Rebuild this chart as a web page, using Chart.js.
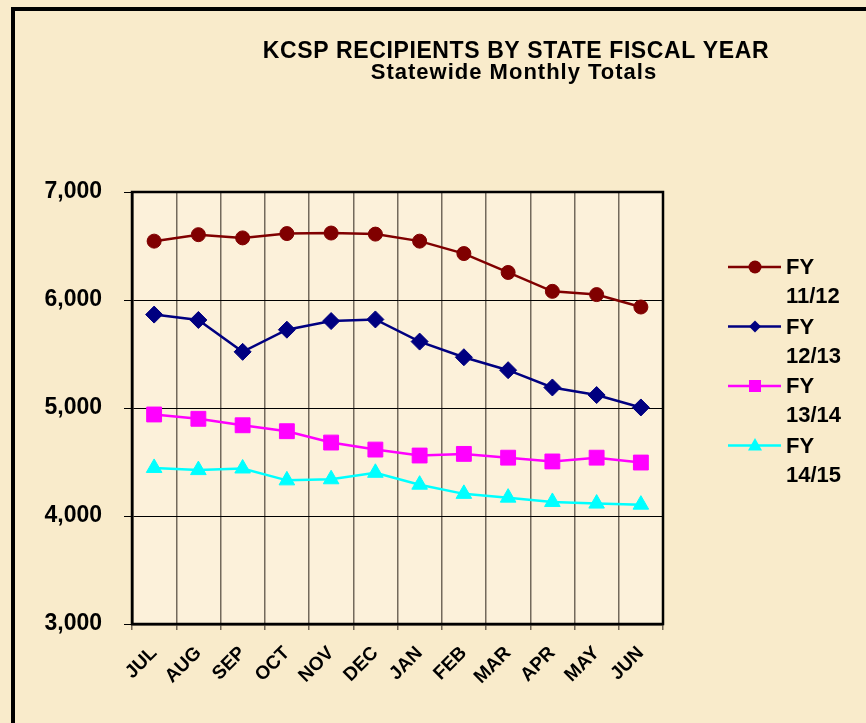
<!DOCTYPE html>
<html>
<head>
<meta charset="utf-8">
<title>KCSP Recipients by State Fiscal Year</title>
<script src="https://cdn.jsdelivr.net/npm/chart.js@4.4.0/dist/chart.umd.min.js"></script>
<style>
  html, body { margin: 0; padding: 0; background: #F9EBCB; overflow: hidden; }
  #wrap { width: 866px; height: 723px; }
</style>
</head>
<body>
<div id="wrap"><canvas id="kcsp" width="866" height="723"></canvas></div>
<script>
// ── Data ───────────────────────────────────────────────────
const months  = ['JUL','AUG','SEP','OCT','NOV','DEC','JAN','FEB','MAR','APR','MAY','JUN'];
const fy1112  = [6545, 6605, 6575, 6615, 6620, 6610, 6545, 6430, 6255, 6080, 6050, 5935];
const fy1213  = [5865, 5815, 5520, 5725, 5805, 5820, 5615, 5470, 5350, 5190, 5120, 5005];
const fy1314  = [4940, 4900, 4840, 4785, 4680, 4615, 4560, 4575, 4540, 4505, 4540, 4495];
const fy1415  = [4445, 4425, 4440, 4330, 4340, 4400, 4290, 4205, 4170, 4130, 4115, 4105];
const yTicks  = [3000, 4000, 5000, 6000, 7000];

const titleText    = 'KCSP RECIPIENTS BY STATE FISCAL YEAR';
const subtitleText = 'Statewide Monthly Totals';
const FONT = 'Arial, "Liberation Sans", sans-serif';

// ── Helpers ────────────────────────────────────────────────
function series(label, data, color, style, radius) {
  return {
    label, data,
    borderColor: color, backgroundColor: color,
    borderWidth: 2.5, tension: 0,
    pointStyle: style, pointRadius: radius, pointHoverRadius: radius,
    pointBackgroundColor: color, pointBorderColor: color, pointBorderWidth: 1
  };
}

function legendMarker(ctx, style, x, y, color) {
  ctx.fillStyle = color;
  ctx.beginPath();
  if (style === 'circle') ctx.arc(x, y, 6.5, 0, Math.PI * 2);
  if (style === 'rectRot') { ctx.moveTo(x, y - 6); ctx.lineTo(x + 6, y); ctx.lineTo(x, y + 6); ctx.lineTo(x - 6, y); }
  if (style === 'rect') ctx.rect(x - 6, y - 6, 12, 12);
  if (style === 'triangle') { ctx.moveTo(x, y - 7.5); ctx.lineTo(x + 7, y + 5); ctx.lineTo(x - 7, y + 5); }
  ctx.closePath();
  ctx.fill();
}

// ── Background, frame, titles, legend ──────────────────────
const decorPlugin = {
  id: 'decor',
  beforeDraw(chart) {
    const { ctx, chartArea: a, width, height } = chart;
    ctx.save();
    ctx.fillStyle = '#F9EBCB';
    ctx.fillRect(0, 0, width, height);
    ctx.fillStyle = '#FCF1DA';
    ctx.fillRect(a.left, a.top, a.right - a.left, a.bottom - a.top);
    // outer border, right/bottom edges are off picture
    ctx.fillStyle = '#000';
    ctx.fillRect(11, 7, width, 4);
    ctx.fillRect(11, 7, 4, height);
    ctx.restore();
  },
  afterDraw(chart) {
    const { ctx, chartArea: a } = chart;
    ctx.save();
    ctx.strokeStyle = '#000';
    ctx.lineWidth = 2.5;
    ctx.strokeRect(a.left, a.top, a.right - a.left, a.bottom - a.top);

    ctx.fillStyle = '#000';
    ctx.textAlign = 'center';
    ctx.textBaseline = 'alphabetic';
    ctx.font = 'bold 23px ' + FONT;
    ctx.letterSpacing = '0.6px';
    ctx.fillText(titleText, 516, 58);
    ctx.font = 'bold 22px ' + FONT;
    ctx.letterSpacing = '1px';
    ctx.fillText(subtitleText, 514, 79);
    ctx.letterSpacing = '0px';

    // legend
    ctx.textAlign = 'left';
    ctx.textBaseline = 'middle';
    chart.data.datasets.forEach((ds, i) => {
      const y = 267 + i * 59.5;
      ctx.strokeStyle = ds.borderColor;
      ctx.lineWidth = 2.5;
      ctx.beginPath();
      ctx.moveTo(728, y);
      ctx.lineTo(781, y);
      ctx.stroke();
      legendMarker(ctx, ds.pointStyle, 755, y, ds.borderColor);
      const parts = ds.label.split(' ');
      ctx.fillStyle = '#000';
      ctx.font = 'bold 22px ' + FONT;
      ctx.fillText(parts[0], 786, y + 1);
      ctx.fillText(parts[1], 786, y + 30);
    });
    ctx.restore();
  }
};

// ── Chart ──────────────────────────────────────────────────
new Chart(document.getElementById('kcsp'), {
  type: 'line',
  data: {
    labels: months,
    datasets: [
      series('FY 11/12', fy1112, '#800000', 'circle', 7),
      series('FY 12/13', fy1213, '#000080', 'rectRot', 8.5),
      series('FY 13/14', fy1314, '#FF00FF', 'rect', 10.5),
      series('FY 14/15', fy1415, '#00FFFF', 'triangle', 9)
    ]
  },
  options: {
    responsive: false,
    animation: false,
    events: [],
    layout: { padding: { top: 192, right: 203, left: 0, bottom: 0 } },
    plugins: {
      legend: { display: false },
      title: { display: false },
      tooltip: { enabled: false }
    },
    scales: {
      x: {
        offset: true,
        afterFit: s => { s.height = 99; },
        grid: { offset: true, color: 'rgba(70,60,50,0.75)', lineWidth: 1.5, tickLength: 6 },
        border: { color: '#000', width: 2.5 },
        ticks: {
          color: '#000', minRotation: 45, maxRotation: 45, padding: 12,
          font: { family: FONT, size: 19, weight: 'bold' }
        }
      },
      y: {
        min: 3000, max: 7000,
        afterFit: s => { s.width = 132; },
        afterBuildTicks: s => { s.ticks = yTicks.map(v => ({ value: v })); },
        grid: { color: '#000', lineWidth: 1, tickLength: 8 },
        border: { color: '#000', width: 2.5 },
        ticks: {
          color: '#000', padding: 22,
          font: { family: FONT, size: 23, weight: 'bold' },
          callback: v => v.toLocaleString('en-US')
        }
      }
    }
  },
  plugins: [decorPlugin]
});
</script>
</body>
</html>
